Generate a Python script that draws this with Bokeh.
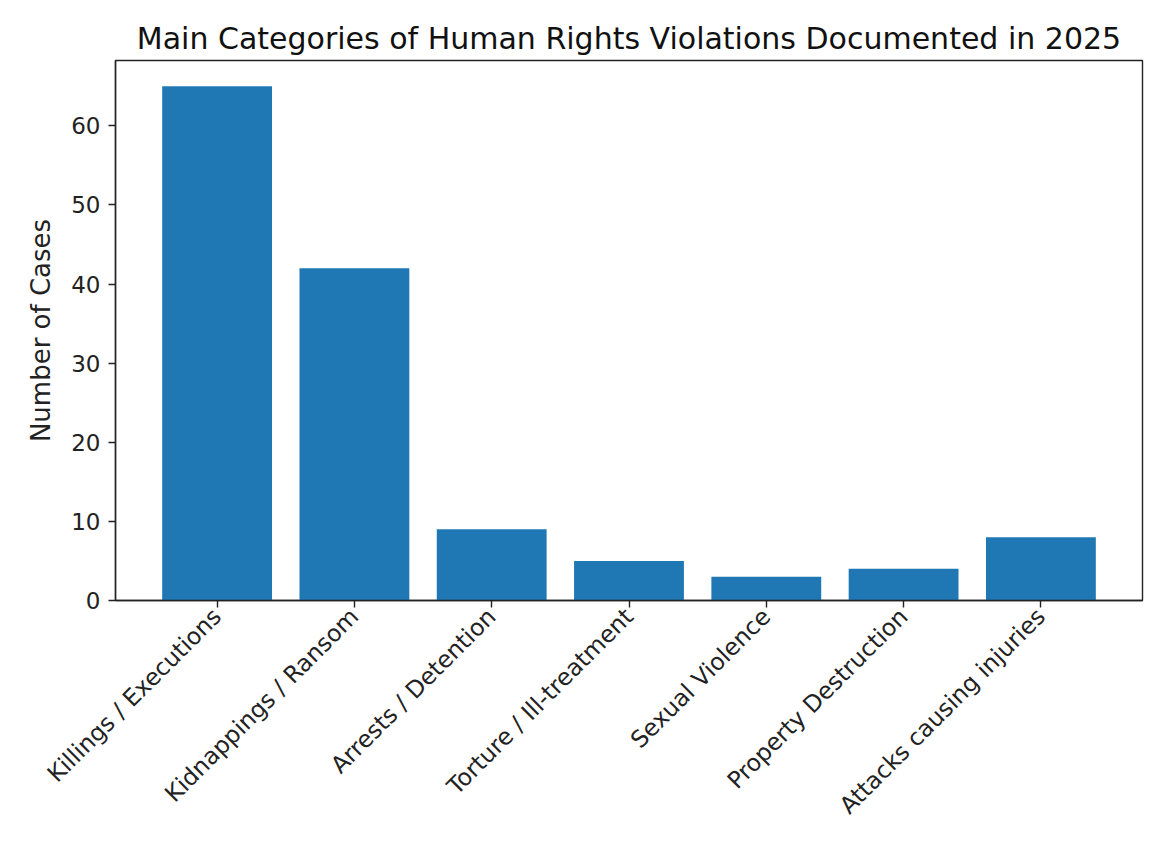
from bokeh.plotting import figure
from bokeh.models import FactorRange, Range1d, FixedTicker
from bokeh.embed import file_html
from bokeh.resources import INLINE
import math

categories = ["Killings / Executions", "Kidnappings / Ransom", "Arrests / Detention",
              "Torture / Ill-treatment", "Sexual Violence", "Property Destruction",
              "Attacks causing injuries"]
cases = [65, 42, 9, 5, 3, 4, 8]
y_ticks = [0, 10, 20, 30, 40, 50, 60]

FONT = "DejaVu Sans"

p = figure(width=1150, height=833, output_backend="svg", toolbar_location=None,
           x_range=FactorRange(factors=categories, range_padding=0.48 / 7),
           y_range=Range1d(0, max(cases) * 1.05),
           title="Main Categories of Human Rights Violations Documented in 2025",
           min_border_left=115, min_border_right=8, min_border_top=60, min_border_bottom=233)

p.vbar(x=categories, top=cases, width=0.8, color="#1f77b4", line_color=None)

p.title.align = "center"
p.title.text_font = FONT
p.title.text_font_size = "30px"
p.title.text_font_style = "normal"
p.title.text_color = "#111111"
p.title.offset = 0
p.title.standoff = 10

p.xgrid.visible = False
p.ygrid.visible = False
p.outline_line_color = "#222222"
p.outline_line_width = 1.4
p.outline_line_alpha = 1

for ax in (p.xaxis[0], p.yaxis[0]):
    ax.axis_line_color = "#222222"
    ax.axis_line_width = 1.4
    ax.major_tick_line_color = "#222222"
    ax.major_tick_line_width = 1.4
    ax.major_tick_out = 7
    ax.major_tick_in = 0
    ax.minor_tick_line_color = None
    ax.major_label_text_font = FONT
    ax.major_label_text_color = "#222222"

p.yaxis.major_label_text_font_size = "23px"
p.xaxis.major_label_text_font_size = "23.5px"

p.yaxis.ticker = FixedTicker(ticks=y_ticks)
p.yaxis.axis_label = "Number of Cases"
p.yaxis.axis_label_text_font = FONT
p.yaxis.axis_label_text_font_size = "26px"
p.yaxis.axis_label_text_font_style = "normal"
p.yaxis.axis_label_text_color = "#222222"
p.yaxis.major_label_standoff = 8
p.yaxis.axis_label_standoff = 12

p.xaxis.major_label_orientation = math.pi / 4
p.xaxis.major_label_standoff = 5
p.xaxis.group_text_font_size = "0px"

open("out.html", "w").write(file_html(p, INLINE))
